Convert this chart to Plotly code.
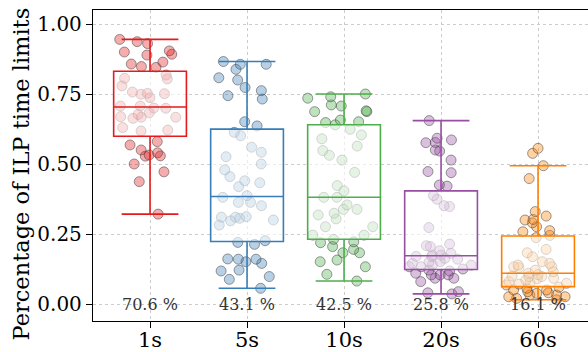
import plotly.graph_objects as go

categories = ["1s", "5s", "10s", "20s", "60s"]

vals_1s = [0.321, 0.437, 0.472, 0.50, 0.528, 0.529, 0.532, 0.54, 0.55, 0.568, 0.58,
           0.618, 0.621, 0.63, 0.663, 0.667, 0.667, 0.669, 0.677, 0.683, 0.699, 0.70,
           0.707, 0.707, 0.737, 0.749, 0.751, 0.752, 0.757, 0.779, 0.804, 0.806, 0.818,
           0.845, 0.848, 0.857, 0.864, 0.889, 0.892, 0.90, 0.904, 0.93, 0.937, 0.945]
vals_5s = [0.056, 0.088, 0.098, 0.118, 0.121, 0.145, 0.151, 0.16, 0.16, 0.161, 0.213,
           0.22, 0.226, 0.282, 0.297, 0.30, 0.306, 0.31, 0.31, 0.312, 0.351, 0.363,
           0.363, 0.381, 0.387, 0.419, 0.433, 0.44, 0.455, 0.479, 0.50, 0.526, 0.542,
           0.56, 0.601, 0.613, 0.636, 0.651, 0.732, 0.744, 0.762, 0.773, 0.80, 0.808,
           0.838, 0.856, 0.856, 0.866]
vals_10s = [0.082, 0.106, 0.133, 0.151, 0.157, 0.183, 0.183, 0.195, 0.205, 0.219, 0.222,
            0.231, 0.246, 0.246, 0.276, 0.276, 0.304, 0.318, 0.324, 0.338, 0.338, 0.354,
            0.381, 0.381, 0.404, 0.423, 0.47, 0.514, 0.531, 0.548, 0.564, 0.59, 0.604,
            0.624, 0.64, 0.648, 0.651, 0.657, 0.687, 0.687, 0.69, 0.707, 0.711, 0.735,
            0.74, 0.75]
vals_20s = [0.036, 0.04, 0.044, 0.08, 0.092, 0.092, 0.104, 0.104, 0.104, 0.11, 0.118,
            0.121, 0.125, 0.133, 0.133, 0.139, 0.14, 0.145, 0.15, 0.151, 0.16, 0.163,
            0.169, 0.17, 0.175, 0.175, 0.181, 0.19, 0.205, 0.208, 0.214, 0.273, 0.348,
            0.351, 0.374, 0.387, 0.421, 0.425, 0.469, 0.473, 0.514, 0.546, 0.55, 0.576,
            0.577, 0.586, 0.592, 0.655]
vals_60s = [0.015, 0.02, 0.026, 0.026, 0.032, 0.032, 0.038, 0.04, 0.044, 0.05, 0.05,
            0.056, 0.06, 0.068, 0.071, 0.074, 0.076, 0.08, 0.085, 0.09, 0.092, 0.098,
            0.098, 0.10, 0.105, 0.11, 0.115, 0.121, 0.13, 0.133, 0.133, 0.139, 0.145,
            0.151, 0.169, 0.183, 0.195, 0.237, 0.245, 0.258, 0.262, 0.276, 0.29, 0.30,
            0.302, 0.314, 0.33, 0.448, 0.494, 0.538, 0.556]
series = [vals_1s, vals_5s, vals_10s, vals_20s, vals_60s]
mean_pct = [70.6, 43.1, 42.5, 25.8, 16.1]
y_ticks = [0.0, 0.25, 0.5, 0.75, 1.0]
y_title = "Percentage of ILP time limits"

colors = ["#e41a1c", "#377eb8", "#4daf4a", "#984ea3", "#ff7f00"]

def rgba(hexc, a):
    h = hexc.lstrip("#")
    return "rgba(%d,%d,%d,%.2f)" % (int(h[0:2], 16), int(h[2:4], 16), int(h[4:6], 16), a)

FONT = "DejaVu Serif"
fig = go.Figure()

# jittered sample points (bottom layer)
for cat, vals, col in zip(categories, series, colors):
    fig.add_trace(go.Box(
        x=[cat] * len(vals), y=vals, boxpoints="all", jitter=0.8, pointpos=0,
        width=0.95, line=dict(width=0, color="rgba(0,0,0,0)"),
        fillcolor="rgba(0,0,0,0)", whiskerwidth=0,
        marker=dict(size=10, color=rgba(col, 0.36),
                    line=dict(color="rgba(60,60,60,0.5)", width=1)),
        quartilemethod="linear", showlegend=False, hoverinfo="y"))

# boxes on top with translucent white fill
for cat, vals, col in zip(categories, series, colors):
    fig.add_trace(go.Box(
        x=[cat] * len(vals), y=vals, boxpoints="outliers", width=0.75,
        marker=dict(opacity=0, size=1),
        line=dict(width=1.6, color=col), fillcolor="rgba(255,255,255,0.6)",
        whiskerwidth=0.78, quartilemethod="linear", showlegend=False))

for cat, p in zip(categories, mean_pct):
    fig.add_annotation(x=cat, y=0.0, text="%.1f %%" % p, showarrow=False,
                       xanchor="center", yanchor="middle",
                       font=dict(family=FONT, size=16, color="#333333"))

# y-axis title as rotated annotation (positioned like the reference)
fig.add_annotation(text=y_title, textangle=-90, showarrow=False,
                   xref="paper", yref="paper", x=-0.145, y=0.472,
                   xanchor="center", yanchor="middle",
                   font=dict(family=FONT, size=22.5, color="black"))

fig.update_layout(
    width=588, height=352, margin=dict(l=93, r=0, t=10, b=31),
    paper_bgcolor="white", plot_bgcolor="white", boxmode="overlay",
    font=dict(family=FONT, size=20, color="black"),
)
fig.update_xaxes(
    type="category", categoryorder="array", categoryarray=categories,
    range=[-0.588, 4.515], showgrid=True, gridcolor="#cccccc", griddash="3px,3px",
    gridwidth=1, showline=True, linecolor="black", linewidth=1.3, mirror=True,
    ticks="outside", ticklen=6, tickcolor="black", tickfont=dict(size=21),
    ticklabelstandoff=-6, zeroline=False, automargin=False)
fig.update_yaxes(
    range=[-0.0607, 1.05], tickvals=y_ticks, ticktext=["%.2f" % v for v in y_ticks],
    showgrid=True, gridcolor="#cccccc", griddash="3px,3px", gridwidth=1,
    showline=True, linecolor="black", linewidth=1.3, ticks="outside", ticklen=6,
    tickcolor="black", tickfont=dict(size=20), zeroline=False, automargin=False)

fig.write_html("out.html")
